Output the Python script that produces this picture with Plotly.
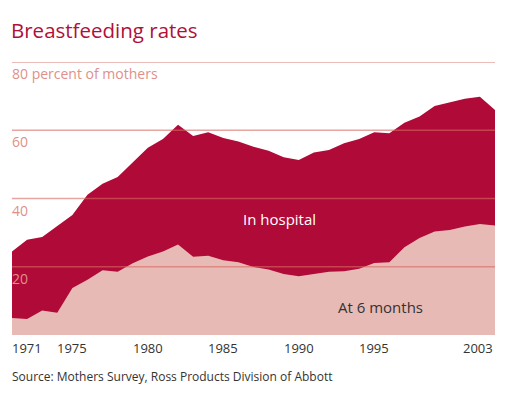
import plotly.graph_objects as go

years = list(range(1971, 2004))
in_hospital = [24.5, 27.9, 28.7, 32.0, 35.2, 41.1, 44.3, 46.3, 50.7, 54.9,
               57.4, 61.6, 58.3, 59.4, 57.7, 56.7, 55.2, 54.0, 52.1, 51.3,
               53.5, 54.2, 56.2, 57.4, 59.4, 59.1, 62.2, 64.0, 67.1, 68.2,
               69.2, 69.8, 65.9]
at_6_months = [5.0, 4.7, 7.2, 6.5, 13.8, 16.2, 19.0, 18.5, 21.0, 23.0,
               24.5, 26.5, 22.9, 23.2, 21.9, 21.3, 19.9, 19.2, 17.9, 17.2,
               17.9, 18.5, 18.7, 19.4, 21.1, 21.3, 25.7, 28.4, 30.3, 30.8,
               31.8, 32.5, 32.1]
y_ticks = [20, 40, 60, 80]
y_tick_text = ["20", "40", "60", "80 percent of mothers"]
x_ticks = [1971, 1975, 1980, 1985, 1990, 1995, 2003]
x_tick_text = ["1971", "1975", "1980", "1985", "1990", "1995", "2003"]

DARK = "#b00a38"
PINK = "#e8bab5"
FONT = "Open Sans"

fig = go.Figure()
fig.add_trace(go.Scatter(x=years, y=in_hospital, mode="lines", fill="tozeroy",
                         fillcolor=DARK, line=dict(width=0, color=DARK),
                         hoverinfo="skip", showlegend=False))
fig.add_trace(go.Scatter(x=years, y=at_6_months, mode="lines", fill="tozeroy",
                         fillcolor=PINK, line=dict(width=0, color=PINK),
                         hoverinfo="skip", showlegend=False))

for v in y_ticks:
    fig.add_shape(type="line", xref="x", yref="y", x0=years[0], x1=years[-1],
                  y0=v, y1=v, layer="above",
                  line=dict(color="rgba(215,105,98,0.6)", width=1.3))

annotations = []
for v, t in zip(y_ticks, y_tick_text):
    annotations.append(dict(x=years[0], y=v, xref="x", yref="y", text=t,
                            showarrow=False, xanchor="left", yanchor="top",
                            xshift=-2, yshift=0,
                            font=dict(family=FONT, size=14, color="#e0908a")))
for v, t in zip(x_ticks, x_tick_text):
    anchor = "left" if v == years[0] else ("right" if v == years[-1] else "center")
    annotations.append(dict(x=v, y=0, xref="x", yref="paper", text=t,
                            showarrow=False, xanchor=anchor, yanchor="top",
                            xshift=-2 if anchor == "left" else 0, yshift=-2,
                            font=dict(family=FONT, size=13, color="#333333")))

annotations += [
    dict(x=0, y=1.117, xref="paper", yref="paper", text="Breastfeeding rates",
         showarrow=False, xanchor="left", yanchor="middle", xshift=-3,
         font=dict(family=FONT, size=20.5, color="#b0103a")),
    dict(x=0, y=-0.152, xref="paper", yref="paper",
         text="Source: Mothers Survey, Ross Products Division of Abbott",
         showarrow=False, xanchor="left", yanchor="middle", xshift=-2,
         font=dict(family=FONT, size=12, color="#333333")),
    dict(x=1988.7, y=34.1, xref="x", yref="y", text="In hospital",
         showarrow=False, font=dict(family=FONT, size=15, color="white")),
    dict(x=1995.4, y=8.3, xref="x", yref="y", text="At 6 months",
         showarrow=False, font=dict(family=FONT, size=15, color="#333333")),
]

fig.update_layout(
    width=505, height=399,
    margin=dict(l=12, r=10, t=62, b=63.5, pad=0),
    paper_bgcolor="white", plot_bgcolor="white",
    xaxis=dict(range=[years[0], years[-1]], showgrid=False, zeroline=False,
               showticklabels=False, ticks="", showline=False, fixedrange=True),
    yaxis=dict(range=[0, 80], showgrid=False, zeroline=False,
               showticklabels=False, ticks="", showline=False, fixedrange=True),
    annotations=annotations,
    showlegend=False,
)

fig.write_html("out.html", config={"displayModeBar": False},
               post_script="document.body.style.margin='0px';document.body.style.overflow='hidden';")
